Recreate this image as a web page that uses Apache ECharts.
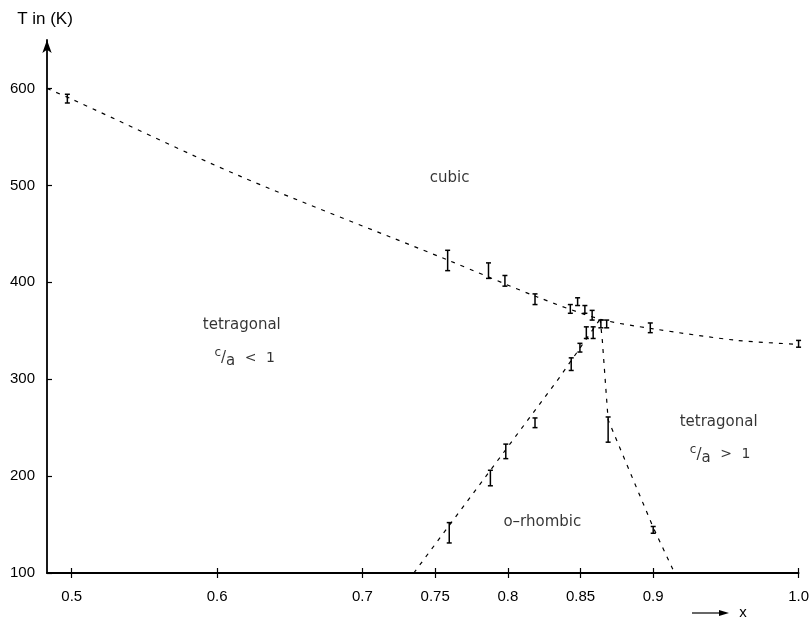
<!DOCTYPE html>
<html>
<head>
<meta charset="utf-8">
<script src="https://cdn.jsdelivr.net/npm/echarts@6/dist/echarts.min.js"></script>
<style>html,body{margin:0;padding:0;background:#fff}#c{width:812px;height:627px}</style>
</head>
<body>
<div id="c"></div>
<script>
// x tick values and labels
const xTicks = [0.5, 0.6, 0.7, 0.75, 0.8, 0.85, 0.9, 1.0];
const xTickLabels = ['0.5', '0.6', '0.7', '0.75', '0.8', '0.85', '0.9', '1.0'];
// boundary: cubic / tetragonal
const cubicBoundary = [[0.483, 600], [0.5, 589], [0.615, 510], [0.7586, 423], [0.82, 385], [0.8635, 362], [0.9, 352], [0.958, 340], [1.0, 336]];
// boundary: o-rhombic / tetragonal c/a<1
const leftBoundary = [[0.7353, 100], [0.8347, 300], [0.8635, 362]];
// boundary: o-rhombic / tetragonal c/a>1
const rightBoundary = [[0.8635, 362], [0.865, 340], [0.869, 258], [0.9, 147], [0.9147, 100]];
// error bars [x, low, high]
const cubicErr = [[0.497, 585, 594], [0.7586, 412, 433], [0.7867, 404, 420], [0.798, 396, 407], [0.8187, 377, 388], [0.843, 368, 377], [0.848, 376, 384], [0.853, 368, 376], [0.858, 361, 371], [0.864, 353, 361], [0.868, 353, 361], [0.898, 348, 358], [1.0, 333, 340]];
const leftErr = [[0.7597, 131, 152], [0.788, 190, 206], [0.7986, 218, 233], [0.8187, 250, 260], [0.8436, 309, 322], [0.8496, 328, 337], [0.854, 342, 354], [0.8587, 342, 354]];
const rightErr = [[0.869, 235, 261], [0.9, 141, 148]];
// region labels [x, y, text]
const regionLabels = [
  [0.76, 507, 'cubic'],
  [0.617, 356, 'tetragonal'],
  [0.619, 322, '{c|c}{s|/}{a|a}  {t|<}  {t|1}'],
  [0.945, 256, 'tetragonal'],
  [0.946, 222, '{c|c}{s|/}{a|a}  {t|>}  {t|1}'],
  [0.8237, 153, 'o\u2013rhombic']
];

const FONT = 'Liberation Sans';
const RFONT = 'DejaVu Sans';
const chart = echarts.init(document.getElementById('c'));

function errItem(params, api) {
  const x = api.value(0);
  const lo = api.coord([x, api.value(1)]);
  const hi = api.coord([x, api.value(2)]);
  const w = 2.5;
  const st = {stroke: '#000', lineWidth: 1.5};
  return {type: 'group', children: [
    {type: 'line', shape: {x1: lo[0], y1: lo[1], x2: hi[0], y2: hi[1]}, style: st},
    {type: 'line', shape: {x1: lo[0] - w, y1: lo[1], x2: lo[0] + w, y2: lo[1]}, style: st},
    {type: 'line', shape: {x1: hi[0] - w, y1: hi[1], x2: hi[0] + w, y2: hi[1]}, style: st}
  ]};
}

const dashStyle = {color: '#000', width: 1.2, type: [4, 6]};

chart.setOption({
  animation: false,
  backgroundColor: '#fff',
  grid: {left: 47, right: 11, top: 40, bottom: 54, containLabel: false},
  xAxis: [{
    type: 'value', min: 0.483, max: 1.0,
    axisLine: {show: true, lineStyle: {color: '#000', width: 1.8}},
    splitLine: {show: false},
    axisTick: {show: true, customValues: xTicks, length: 5, lineStyle: {color: '#000', width: 1.2}},
    axisLabel: {
      customValues: xTicks, margin: 16, color: '#000', fontFamily: FONT, fontSize: 15,
      formatter: v => { const i = xTicks.findIndex(t => Math.abs(t - v) < 1e-6); return i >= 0 ? xTickLabels[i] : ''; }
    }
  }, {
    type: 'value', min: 0.483, max: 1.0, position: 'bottom',
    axisLine: {show: false}, splitLine: {show: false},
    axisTick: {show: true, inside: true, customValues: xTicks, length: 5, lineStyle: {color: '#000', width: 1.2}},
    axisLabel: {show: false}
  }],
  yAxis: {
    type: 'value', min: 100, max: 650, interval: 100,
    name: 'T in (K)', nameLocation: 'end', nameGap: 12,
    nameTextStyle: {color: '#000', fontFamily: FONT, fontSize: 17, padding: [0, 4, 0, 0]},
    axisLine: {show: true, symbol: ['none', 'arrow'], symbolSize: [7, 13], lineStyle: {color: '#000', width: 1.8}},
    splitLine: {show: false},
    axisTick: {show: true, inside: true, length: 5, lineStyle: {color: '#000', width: 1.2}},
    axisLabel: {color: '#000', fontFamily: FONT, fontSize: 15, margin: 12, showMaxLabel: false,
      formatter: v => (v % 100 === 0 && v <= 600) ? String(v) : ''}
  },
  series: [
    {type: 'line', data: cubicBoundary, smooth: 0.3, symbol: 'none', lineStyle: dashStyle},
    {type: 'line', data: leftBoundary, symbol: 'none', lineStyle: dashStyle},
    {type: 'line', data: rightBoundary, symbol: 'none', lineStyle: dashStyle},
    {type: 'custom', renderItem: errItem, data: cubicErr, encode: {x: 0, y: [1, 2]}, z: 5},
    {type: 'custom', renderItem: errItem, data: leftErr, encode: {x: 0, y: [1, 2]}, z: 5},
    {type: 'custom', renderItem: errItem, data: rightErr, encode: {x: 0, y: [1, 2]}, z: 5},
    {
      type: 'scatter', symbolSize: 0, silent: true,
      data: regionLabels.map(d => ({value: [d[0], d[1]], name: d[2]})),
      label: {
        show: true, position: 'inside', formatter: p => p.name,
        color: '#000', fontFamily: RFONT, fontSize: 15,
        rich: {
          c: {fontFamily: RFONT, fontSize: 12, color: '#000', verticalAlign: 'top', lineHeight: 22},
          s: {fontFamily: RFONT, fontSize: 15, color: '#000', lineHeight: 22},
          a: {fontFamily: RFONT, fontSize: 15, color: '#000', verticalAlign: 'bottom', lineHeight: 22},
          t: {fontFamily: RFONT, fontSize: 14, color: '#000', lineHeight: 22}
        }
      }
    }
  ],
  graphic: [
    {type: 'line', shape: {x1: 692, y1: 613, x2: 722, y2: 613}, style: {stroke: '#000', lineWidth: 1.2}},
    {type: 'polygon', shape: {points: [[719, 610], [729, 613], [719, 616]]}, style: {fill: '#000'}},
    {type: 'text', style: {x: 743, y: 613, text: 'x', fontFamily: FONT, fontSize: 15, fill: '#000', align: 'center', verticalAlign: 'middle'}}
  ]
});
</script>
</body>
</html>
